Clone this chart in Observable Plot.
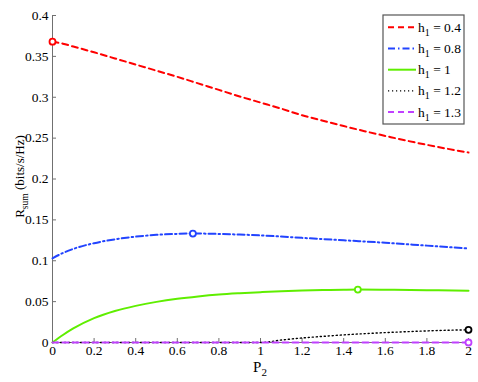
<!DOCTYPE html>
<html>
<head>
<meta charset="utf-8">
<script src="https://cdn.jsdelivr.net/npm/d3@7"></script>
<script src="https://cdn.jsdelivr.net/npm/@observablehq/plot@0.6"></script>
<style>
  html, body { margin: 0; padding: 0; background: #fff; }
  #chart { position: relative; width: 478px; height: 382px; }
  #chart svg, #chart svg text, #chart svg tspan { font-family: "Liberation Serif", "Times New Roman", Times, "DejaVu Serif", serif !important; }
</style>
</head>
<body>
<div id="chart"></div>
<script>
// ---- data ----
const seriesNames = ["h1 = 0.4", "h1 = 0.8", "h1 = 1", "h1 = 1.2", "h1 = 1.3"];
const seriesValues = ["0.4", "0.8", "1", "1.2", "1.3"];
const seriesColors = ["#ff0000", "#2244ff", "#5fee00", "#000000", "#c040ff"];
const seriesDash = ["6,4", "7,3,1.5,3", null, "1.2,2.8", "6,4"];
const seriesWidth = [2, 2, 2, 1.4, 2];

const p2Red = [0, 0.05, 0.1, 0.2, 0.3, 0.4, 0.5, 0.6, 0.7, 0.8, 0.9, 1.0, 1.1, 1.2, 1.3, 1.4, 1.5, 1.6, 1.7, 1.8, 1.9, 2.0];
const rRed  = [0.368, 0.3655, 0.362, 0.355, 0.3475, 0.340, 0.3325, 0.325, 0.317, 0.309, 0.301, 0.2935, 0.286, 0.278, 0.2713, 0.2648, 0.2585, 0.2527, 0.2470, 0.2418, 0.2369, 0.2324];

const p2Blue = [0, 0.05, 0.1, 0.2, 0.3, 0.4, 0.5, 0.6, 0.675, 0.8, 0.9, 1.0, 1.2, 1.4, 1.6, 1.8, 2.0];
const rBlue  = [0.103, 0.1095, 0.1145, 0.1215, 0.1262, 0.1295, 0.1317, 0.1329, 0.1333, 0.1328, 0.1320, 0.131, 0.128, 0.125, 0.122, 0.1185, 0.115];

const p2Green = [0, 0.05, 0.1, 0.2, 0.3, 0.4, 0.5, 0.6, 0.7, 0.8, 0.9, 1.0, 1.1, 1.2, 1.3, 1.4, 1.468, 1.6, 1.8, 2.0];
const rGreen  = [0, 0.0092, 0.0172, 0.0298, 0.0385, 0.0448, 0.0497, 0.0535, 0.0564, 0.0587, 0.0603, 0.0616, 0.0627, 0.0635, 0.0641, 0.0646, 0.0648, 0.0646, 0.0640, 0.0632];

const p2Black = [0, 0.5, 1.0, 1.1, 1.2, 1.3, 1.4, 1.5, 1.6, 1.7, 1.8, 1.9, 2.0];
const rBlack  = [0, 0, 0, 0.003, 0.0055, 0.0075, 0.0093, 0.0108, 0.0121, 0.0132, 0.0142, 0.0150, 0.0155];

const p2Purple = [0, 0.5, 1.0, 1.5, 2.0];
const rPurple  = [0, 0, 0, 0, 0];

// optimum markers (P2, Rsum) per series
const optP2 = [0, 0.675, 1.468, 2.0, 2.0];
const optR  = [0.368, 0.1333, 0.0648, 0.0155, 0];

const xTicks = [0, 0.2, 0.4, 0.6, 0.8, 1, 1.2, 1.4, 1.6, 1.8, 2];
const yTicks = [0, 0.05, 0.1, 0.15, 0.2, 0.25, 0.3, 0.35, 0.4];

// ---- build table ----
const xs = [p2Red, p2Blue, p2Green, p2Black, p2Purple];
const ys = [rRed, rBlue, rGreen, rBlack, rPurple];
const rows = [];
xs.forEach((arr, i) => arr.forEach((p, j) => rows.push({s: i, p2: p, r: ys[i][j]})));
const opt = optP2.map((p, i) => ({s: i, p2: p, r: optR[i]}));

const font = '"Liberation Serif", "Times New Roman", Times, "DejaVu Serif", serif';
const axisGray = "#707070";

const lineMarks = seriesNames.map((name, i) =>
  Plot.line(rows.filter(d => d.s === i), {
    x: "p2", y: "r", stroke: seriesColors[i], strokeWidth: seriesWidth[i],
    strokeDasharray: seriesDash[i], curve: "monotone-x"
  })
);

const chart = Plot.plot({
  width: 478,
  height: 382,
  marginLeft: 52,
  marginRight: 10,
  marginTop: 15,
  marginBottom: 40,
  style: {fontSize: "13.5px", color: "#000", background: "#fff"},
  x: {domain: [0, 2]},
  y: {domain: [0, 0.4]},
  marks: [
    Plot.axisX({ticks: xTicks, tickSize: -4, tickPadding: 7, label: null, stroke: axisGray,
      tickFormat: d => String(+d.toFixed(2)), fill: "#000"}),
    Plot.axisY({ticks: yTicks, tickSize: -4, tickPadding: 8, label: null, stroke: axisGray,
      tickFormat: d => String(+d.toFixed(2)), fill: "#000"}),
    Plot.ruleX([0], {stroke: axisGray}),
    Plot.ruleY([0], {stroke: axisGray}),
    ...lineMarks,
    Plot.dot(opt, {x: "p2", y: "r", r: 3, stroke: d => seriesColors[d.s], strokeWidth: 1.8, fill: "#fff"})
  ]
});

document.getElementById("chart").appendChild(chart);

const svg = d3.select(chart);
svg.attr("font-family", font).style("font-family", font);
const sx = chart.scale("x"), sy = chart.scale("y");

// axis labels with subscripts
const xl = svg.append("text")
  .attr("x", (sx.apply(0) + sx.apply(2)) / 2).attr("y", 371.5)
  .attr("text-anchor", "middle").attr("font-size", 15).attr("fill", "#000");
xl.append("tspan").text("P");
xl.append("tspan").attr("dy", 4).attr("font-size", 11).text("2");

const yl = svg.append("text")
  .attr("transform", `translate(24,${(sy.apply(0) + sy.apply(0.4)) / 2 - 2}) rotate(-90)`)
  .attr("text-anchor", "middle").attr("font-size", 13).attr("fill", "#000");
yl.append("tspan").text("R");
yl.append("tspan").attr("dy", 4).attr("font-size", 9.5).text("sum");
yl.append("tspan").attr("dy", -4).text(" (bits/s/Hz)");

// legend
const lg = svg.append("g").attr("text-anchor", "start");
lg.append("rect").attr("x", 383).attr("y", 15).attr("width", 81).attr("height", 109)
  .attr("fill", "#fff").attr("stroke", "#555").attr("stroke-width", 1.2);
seriesNames.forEach((name, i) => {
  const y = 27.3 + i * 21.2;
  lg.append("line").attr("x1", 388).attr("x2", 416).attr("y1", y).attr("y2", y)
    .attr("stroke", seriesColors[i]).attr("stroke-width", seriesWidth[i])
    .attr("stroke-dasharray", seriesDash[i]);
  const t = lg.append("text").attr("x", 418).attr("y", y + 4.5)
    .attr("text-anchor", "start").attr("font-size", 13.5).attr("fill", "#000");
  t.append("tspan").text("h");
  t.append("tspan").attr("dy", 4).attr("font-size", 10).text("1");
  t.append("tspan").attr("dy", -4).text(" = " + seriesValues[i]);
});
svg.selectAll("text").attr("font-family", font).style("font-family", font);
</script>
</body>
</html>
